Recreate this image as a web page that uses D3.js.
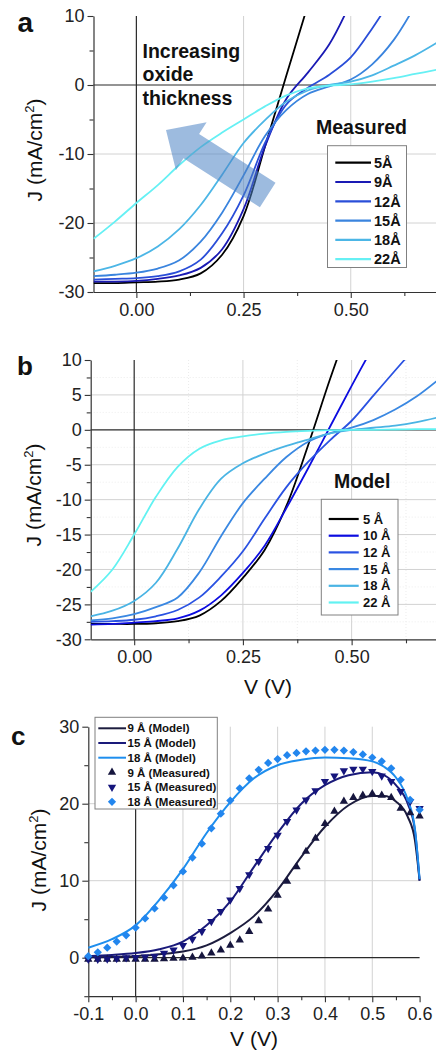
<!DOCTYPE html>
<html><head><meta charset="utf-8">
<script src="https://cdn.jsdelivr.net/npm/d3@7"></script>
<style>
html,body{margin:0;padding:0;background:#fff;}
svg{display:block;font-family:"Liberation Sans",Arial,Helvetica,sans-serif;}
</style></head><body>
<svg id="chart" width="436" height="1052"></svg>
<script>
// ================= DATA =================
// Panels a & b : voltage sample points (V)
const voltsAB = [-0.1,-0.05,0,0.05,0.1,0.15,0.2,0.25,0.3,0.35,0.4,0.45,0.5,0.55,0.6,0.65,0.7];

// Panel a : measured J (mA/cm2)
const measuredLabels = ["5Å","9Å","12Å","15Å","18Å","22Å"];
const measuredColors = ["#000000","#1a1ab4","#2a4ed8","#3a84de","#4cb6e6","#66f0f4"];
const measured5Å  = [-28.7,-28.7,-28.6,-28.5,-28.2,-27.3,-24.6,-19.0,-8.9,1.4,11.6,null,null,null,null,null,null];
const measured9Å  = [-28.5,-28.5,-28.4,-28.1,-27.6,-26.5,-23.8,-18.0,-8.9,-2.0,1.8,5.9,12.0,null,null,null,null];
const measured12Å = [-28.2,-28.1,-28.0,-27.7,-27.0,-25.3,-21.5,-16.0,-8.4,-2.8,-0.4,1.5,4.0,8.2,13.0,null,null];
const measured15Å = [-27.7,-27.5,-27.2,-26.6,-25.4,-22.7,-18.5,-13.1,-7.4,-3.6,-1.3,-0.2,0.8,3.0,6.5,11.5,null];
const measured18Å = [-27.0,-26.2,-25.1,-23.4,-20.9,-17.4,-13.0,-8.4,-5.1,-2.4,-0.8,0.0,0.5,1.4,2.8,4.3,6.1];
const measured22Å = [-22.3,-19.8,-17.1,-14.5,-11.6,-9.0,-6.9,-5.0,-3.1,-1.5,-0.5,-0.1,0.1,0.5,1.0,1.6,2.2];

// Panel b : model J (mA/cm2)
const modelLabels = ["5 Å","10 Å","12 Å","15 Å","18 Å","22 Å"];
const modelColors = ["#000000","#0c0ce0","#2a52e2","#3a88e2","#4ab4e4","#62f2f2"];
const model5Å  = [-27.8,-27.8,-27.8,-27.7,-27.4,-26.6,-24.5,-21.2,-17.2,-10.9,-2.2,7.2,16.0,null,null,null,null];
const model10Å = [-27.9,-27.8,-27.6,-27.4,-27.0,-25.9,-23.7,-20.5,-16.6,-11.2,-5.5,0.4,6.3,12.0,null,null,null];
const model12Å = [-27.5,-27.4,-27.2,-26.7,-25.8,-24.0,-21.0,-17.4,-12.7,-8.2,-4.6,-1.5,1.3,4.9,8.5,12.0,null];
const model15Å = [-27.3,-27.0,-26.4,-25.4,-24.0,-20.4,-15.2,-10.5,-7.0,-3.9,-1.7,-0.5,0.3,1.4,2.9,4.8,7.2];
const model18Å = [-26.7,-25.9,-24.5,-21.9,-17.0,-11.3,-7.0,-4.8,-3.4,-2.3,-1.4,-0.5,0.0,0.3,0.6,1.1,1.8];
const model22Å = [-23.2,-20.0,-15.0,-9.6,-5.3,-2.7,-1.5,-0.95,-0.55,-0.3,-0.15,-0.05,0,0,0.05,0.1,0.1];

// Panel c : model curves
const voltsCModel = [-0.1,-0.05,0,0.05,0.1,0.15,0.2,0.25,0.3,0.35,0.4,0.45,0.5,0.525,0.55,0.575,0.59,0.6];
const cModel9Å  = [0.05,0.1,0.2,0.45,0.8,1.6,3.2,5.4,8.8,13.1,17.0,19.8,21.0,21.0,20.3,18.3,15.3,10.0];
const cModel15Å = [0.2,0.35,0.6,1.1,2.1,4.2,7.3,11.8,16.2,20.0,22.4,23.7,24.1,23.7,22.4,20.0,16.6,10.0];
const cModel18Å = [1.3,2.4,4.2,7.5,11.5,16.2,20.2,23.3,25.0,25.7,26.0,25.9,25.5,24.8,23.4,20.5,16.8,10.2];
// Panel c : measured points
const voltsCMeas = [-0.1,-0.08,-0.06,-0.04,-0.02,0,0.02,0.04,0.06,0.08,0.1,0.12,0.14,0.16,0.18,0.2,0.22,0.24,0.26,0.28,0.3,0.32,0.34,0.36,0.38,0.4,0.42,0.44,0.46,0.48,0.5,0.52,0.54,0.56,0.58,0.6];
const cMeas9Å  = [-0.2,-0.2,-0.2,-0.2,-0.2,-0.2,-0.2,-0.2,-0.15,-0.1,-0.05,0.05,0.2,0.6,1.0,1.6,2.3,3.4,4.8,6.3,8.1,9.9,11.8,13.8,15.5,17.4,19.0,20.3,20.8,21.1,21.3,21.1,20.8,19.4,18.8,18.4];
const cMeas15Å = [-0.2,-0.2,-0.15,-0.1,0.0,0.05,0.1,0.2,0.6,1.0,1.6,2.4,3.4,4.7,6.0,7.5,9.0,10.8,12.5,14.2,15.9,17.7,19.2,20.5,21.7,22.9,23.6,24.3,24.5,24.5,24.2,23.6,22.9,21.6,20.3,19.4];
const cMeas18Å = [0.2,0.7,1.3,2.1,2.9,3.9,5.1,6.4,7.8,9.4,11.2,13.0,14.8,16.8,18.7,20.4,22.0,23.3,24.4,25.3,25.8,26.3,26.6,26.8,26.9,27.0,27.0,26.9,26.7,26.4,26.0,25.5,24.6,23.1,20.5,19.2];
const cLegendLabels = ["9 Å (Model)","15 Å (Model)","18 Å (Model)","9 Å (Measured)","15 Å (Measured)","18 Å (Measured)"];
const cLineColors = ["#1c1c3e","#1a1a7a","#1e8eee"];
const cMarkColors = ["#16163e","#15157c","#2286ee"];

// Tick values
const ticksAX = [0,0.25,0.5],  minorAX = [0.125,0.375,0.625];
const ticksAY = [-30,-20,-10,0,10], minorAY = [-25,-15,-5,5];
const ticksBX = [0,0.25,0.5],  minorBX = [0.125,0.375,0.625];
const ticksBY = [-30,-25,-20,-15,-10,-5,0,5,10], minorBY = [-27.5,-22.5,-17.5,-12.5,-7.5,-2.5,2.5,7.5];
const ticksCX = [-0.1,0,0.1,0.2,0.3,0.4,0.5,0.6], minorCX = [-0.05,0.05,0.15,0.25,0.35,0.45,0.55];
const ticksCY = [0,10,20,30], minorCY = [-5,5,15,25];

// ================= DRAW =================
const svg = d3.select("#chart");
svg.append("rect").attr("width",436).attr("height",1052).attr("fill","#fff");
const FONT_TICK = 18;

function makePanel(id, xDom, xRange, yDom, yRange, o) {
  const g = svg.append("g");
  const x = d3.scaleLinear().domain(xDom).range(xRange);
  const y = d3.scaleLinear().domain(yDom).range(yRange);
  const [x0,x1] = xRange, [yb,yt] = yRange;
  svg.append("clipPath").attr("id","clip"+id).append("rect")
     .attr("x",x0).attr("y",yt).attr("width",x1-x0).attr("height",yb-yt);
  if (o.minorGrid) {
    g.append("g").selectAll("line").data(o.minorX).join("line")
      .attr("x1",d=>x(d)).attr("x2",d=>x(d)).attr("y1",yt).attr("y2",yb)
      .attr("stroke","#ececec").attr("stroke-dasharray","1,2");
    g.append("g").selectAll("line").data(o.minorY).join("line")
      .attr("y1",d=>y(d)).attr("y2",d=>y(d)).attr("x1",x0).attr("x2",x1)
      .attr("stroke","#ececec").attr("stroke-dasharray","1,2");
  }
  g.append("g").selectAll("line").data(o.gridX).join("line")
    .attr("x1",d=>x(d)).attr("x2",d=>x(d)).attr("y1",yt).attr("y2",yb)
    .attr("stroke","#d2d2d2").attr("stroke-width",1);
  g.append("g").selectAll("line").data(o.gridY).join("line")
    .attr("y1",d=>y(d)).attr("y2",d=>y(d)).attr("x1",x0).attr("x2",x1)
    .attr("stroke","#d2d2d2").attr("stroke-width",1);
  g.append("line").attr("x1",x(0)).attr("x2",x(0)).attr("y1",yt).attr("y2",yb)
    .attr("stroke","#2a2a2a").attr("stroke-width",1.2);
  g.append("line").attr("y1",y(0)).attr("y2",y(0)).attr("x1",x0).attr("x2",x1)
    .attr("stroke","#2a2a2a").attr("stroke-width",1.2);
  const styleAxis = sel => {
    sel.selectAll("path").attr("stroke","#333").attr("stroke-width",1.2);
    sel.selectAll("line").attr("stroke","#333").attr("stroke-width",1.1);
    sel.selectAll("text").attr("fill","#222").attr("font-size",FONT_TICK)
       .attr("font-family",'"Liberation Sans",Arial,sans-serif');
  };
  g.append("g").attr("transform",`translate(0,${yb})`)
    .call(d3.axisBottom(x).tickValues(o.minorX).tickSize(4).tickFormat(""))
    .call(s=>s.select(".domain").remove()).call(styleAxis);
  g.append("g").attr("transform",`translate(${x0},0)`)
    .call(d3.axisLeft(y).tickValues(o.minorY).tickSize(4).tickFormat(""))
    .call(s=>s.select(".domain").remove()).call(styleAxis);
  g.append("g").attr("transform",`translate(0,${yb})`)
    .call(d3.axisBottom(x).tickValues(o.ticksX).tickSize(6).tickPadding(5).tickSizeOuter(0).tickFormat(o.fmtX))
    .call(styleAxis);
  g.append("g").attr("transform",`translate(${x0},0)`)
    .call(d3.axisLeft(y).tickValues(o.ticksY).tickSize(6).tickPadding(3).tickSizeOuter(0).tickFormat(d=>String(d)))
    .call(styleAxis);
  const plot = svg.append("g").attr("clip-path",`url(#clip${id})`);
  return {g,x,y,plot};
}

function yLabel(cx, cy) {
  const t = svg.append("text").attr("transform",`translate(${cx},${cy}) rotate(-90)`)
    .attr("text-anchor","middle").attr("font-size",21).attr("fill","#111");
  t.append("tspan").text("J (mA/cm");
  t.append("tspan").attr("dy",-8).attr("font-size",13).text("2");
  t.append("tspan").attr("dy",8).text(")");
}
function xLabel(cx, by) {
  svg.append("text").attr("x",cx).attr("y",by).attr("text-anchor","middle")
    .attr("font-size",21).attr("fill","#111").text("V (V)");
}
function panelLetter(txt, px, by, fs) {
  svg.append("text").attr("x",px).attr("y",by).attr("font-size",fs)
    .attr("font-weight","bold").attr("fill","#111").text(txt);
}

// ---------- Panel a ----------
const A = makePanel("A", [-0.1,0.7], [93.5,436.5], [-30,10], [292,16], {
  ticksX:ticksAX, minorX:minorAX, ticksY:ticksAY, minorY:minorAY,
  gridX:[0.25,0.5], gridY:[-20,-10], fmtX:d=>d.toFixed(2), minorGrid:false
});
const seriesA = [measured5Å,measured9Å,measured12Å,measured15Å,measured18Å,measured22Å];
const lineA = d3.line().defined(d=>d[1]!=null).x(d=>A.x(d[0])).y(d=>A.y(d[1])).curve(d3.curveCatmullRom.alpha(0.5));
seriesA.forEach((s,i)=>{
  A.plot.append("path").datum(voltsAB.map((v,k)=>[v,s[k]]))
    .attr("d",lineA).attr("fill","none").attr("stroke",measuredColors[i]).attr("stroke-width",1.8);
});
(function(){
  const tail=[267.7,195], tip=[166,130];
  const L=Math.hypot(tip[0]-tail[0],tip[1]-tail[1]);
  const ang=Math.atan2(tip[1]-tail[1],tip[0]-tail[0])*180/Math.PI;
  const h=30, hw=28.5, sw=14.5;
  const pts=[[0,-sw],[L-h,-sw],[L-h,-hw],[L,0],[L-h,hw],[L-h,sw],[0,sw]];
  svg.append("path").attr("d","M"+pts.map(p=>p.join(",")).join("L")+"Z")
    .attr("transform",`translate(${tail[0]},${tail[1]}) rotate(${ang})`)
    .attr("fill","#4d84c4").attr("opacity",0.55);
})();
["Increasing","oxide","thickness"].forEach((t,i)=>{
  svg.append("text").attr("x",142.5).attr("y",57.5+i*23.7).attr("font-size",19.5)
    .attr("font-weight","bold").attr("fill","#111").text(t);
});
svg.append("text").attr("x",316).attr("y",134).attr("font-size",19.5)
  .attr("font-weight","bold").attr("fill","#111").text("Measured");
svg.append("rect").attr("x",327.5).attr("y",145.7).attr("width",79).attr("height",121.8)
  .attr("fill","#fff").attr("stroke","#808080").attr("stroke-width",1);
measuredLabels.forEach((lab,i)=>{
  const ry=162.7+i*19.3;
  svg.append("line").attr("x1",335.3).attr("x2",371).attr("y1",ry).attr("y2",ry)
    .attr("stroke",measuredColors[i]).attr("stroke-width",2.2);
  svg.append("text").attr("x",374).attr("y",ry+5.2).attr("font-size",14.5)
    .attr("font-weight","bold").attr("fill","#111").text(lab);
});
panelLetter("a",17.5,32,28);
yLabel(42,150);

// ---------- Panel b ----------
const B = makePanel("B", [-0.1,0.7], [90.7,438.6], [-30,10], [639.3,360], {
  ticksX:ticksBX, minorX:minorBX, ticksY:ticksBY, minorY:minorBY,
  gridX:[0.25,0.5], gridY:[-25,-20,-15,-10,-5,5], fmtX:d=>d.toFixed(2), minorGrid:true
});
const seriesB = [model5Å,model10Å,model12Å,model15Å,model18Å,model22Å];
const lineB = d3.line().defined(d=>d[1]!=null).x(d=>B.x(d[0])).y(d=>B.y(d[1])).curve(d3.curveCatmullRom.alpha(0.5));
seriesB.forEach((s,i)=>{
  B.plot.append("path").datum(voltsAB.map((v,k)=>[v,s[k]]))
    .attr("d",lineB).attr("fill","none").attr("stroke",modelColors[i]).attr("stroke-width",1.8);
});
svg.append("text").attr("x",334).attr("y",488).attr("font-size",19.5)
  .attr("font-weight","bold").attr("fill","#111").text("Model");
svg.append("rect").attr("x",321.3).attr("y",499.3).attr("width",76.7).attr("height",115.7)
  .attr("fill","#fff").attr("stroke","#808080").attr("stroke-width",1);
modelLabels.forEach((lab,i)=>{
  const ry=519+i*16.7;
  svg.append("line").attr("x1",328.7).attr("x2",358.7).attr("y1",ry).attr("y2",ry)
    .attr("stroke",modelColors[i]).attr("stroke-width",2.2);
  svg.append("text").attr("x",363).attr("y",ry+4.6).attr("font-size",13)
    .attr("font-weight","bold").attr("fill","#111").text(lab);
});
panelLetter("b",17,375,26);
yLabel(41,495);
xLabel(268,694);

// ---------- Panel c ----------
const C = makePanel("C", [-0.1,0.6], [88.3,419.6], [-5,30], [996.2,726.7], {
  ticksX:ticksCX, minorX:minorCX, ticksY:ticksCY, minorY:minorCY,
  gridX:[0.1,0.2,0.3,0.4,0.5], gridY:[10,20], fmtX:d=>d.toFixed(1), minorGrid:false
});
const lineC = d3.line().x(d=>C.x(d[0])).y(d=>C.y(d[1])).curve(d3.curveMonotoneX);
[cModel9Å,cModel15Å,cModel18Å].forEach((s,i)=>{
  svg.append("path").datum(voltsCModel.map((v,k)=>[v,s[k]]))
    .attr("d",lineC).attr("fill","none").attr("stroke",cLineColors[i]).attr("stroke-width",2);
});
const triUp = d3.symbol(d3.symbolTriangle,30)();
const diamond = d3.symbol(d3.symbolSquare,34)();
const markDefs = [
  {data:cMeas9Å, path:triUp, rot:0, color:cMarkColors[0]},
  {data:cMeas15Å, path:triUp, rot:180, color:cMarkColors[1]},
  {data:cMeas18Å, path:diamond, rot:45, color:cMarkColors[2]}
];
markDefs.forEach(m=>{
  svg.append("g").selectAll("path").data(voltsCMeas.map((v,k)=>[v,m.data[k]])).join("path")
    .attr("d",m.path).attr("fill",m.color)
    .attr("transform",d=>`translate(${C.x(d[0])},${C.y(d[1])}) rotate(${m.rot})`);
});
svg.append("rect").attr("x",95).attr("y",717.3).attr("width",122.3).attr("height",91.7)
  .attr("fill","#fff").attr("stroke","#808080").attr("stroke-width",1);
cLegendLabels.forEach((lab,i)=>{
  const ry=728.3+i*14.7;
  if (i<3) {
    svg.append("line").attr("x1",98.3).attr("x2",126).attr("y1",ry).attr("y2",ry)
      .attr("stroke",cLineColors[i]).attr("stroke-width",2);
  } else {
    const m=markDefs[i-3];
    svg.append("path").attr("d",m.path).attr("fill",m.color)
      .attr("transform",`translate(112,${ry}) rotate(${m.rot})`);
  }
  svg.append("text").attr("x",127.5).attr("y",ry+4.1).attr("font-size",11.5)
    .attr("font-weight","bold").attr("fill","#111").text(lab);
});
panelLetter("c",11,745,26);
yLabel(46,860);
xLabel(254,1046);
</script>
</body></html>
